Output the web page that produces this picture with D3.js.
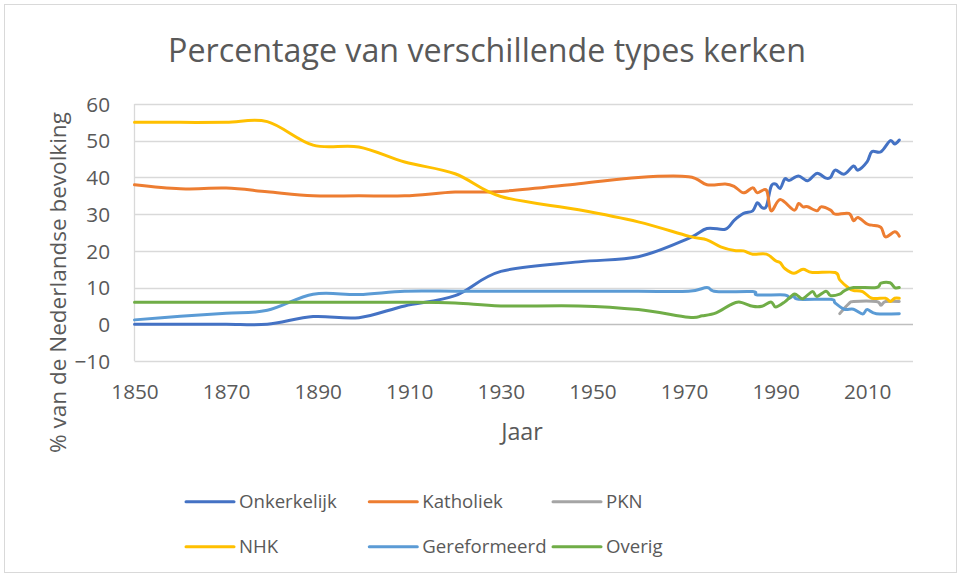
<!DOCTYPE html>
<html>
<head>
<meta charset="utf-8">
<script src="https://cdn.jsdelivr.net/npm/d3@7"></script>
<style>
html, body { margin: 0; padding: 0; background: #fff; }
svg { display: block; }
</style>
</head>
<body>
<div id="chart"></div>
<script>
var seriesNames = ["Onkerkelijk", "Katholiek", "PKN", "NHK", "Gereformeerd", "Overig"];
var seriesColors = ["#4472C4", "#ED7D31", "#A5A5A5", "#FFC000", "#5B9BD5", "#70AD47"];

var onkerkelijkYears = [1850,1860,1870,1879,1889,1899,1909,1920,1930,1947,1960,1971,1975,1979,1981,1983,1985,1986,1987,1988,1989,1990,1991,1992,1993,1995,1997,1999,2001,2002,2003,2005,2007,2008,2010,2011,2013,2015,2016,2017];
var onkerkelijk = [0,0,0,0,2.1,1.8,5,7.8,14.4,17,18.4,23.4,26.1,25.9,28.4,30.2,30.9,33.1,31.8,32.2,37.5,38.2,37,39.6,39.2,40.4,39.1,41.1,39.8,40,42,40.9,43.1,42,44.3,47,47,50,49.1,50.2];

var katholiekYears = [1850,1860,1870,1879,1889,1899,1909,1920,1930,1947,1960,1971,1975,1979,1981,1983,1985,1986,1988,1989,1991,1994,1995,1996,1997,1999,2000,2002,2003,2006,2007,2008,2010,2011,2013,2014,2016,2017];
var katholiek = [38,36.9,37.1,36.1,35,35,35,36,36.2,38.3,40,40.2,38,38.2,37.5,35.8,37.2,35.8,36.5,30.9,34,31.1,32.9,32,32,30.9,32,31.1,30,30.2,28.2,29.1,27.3,27,26.4,23.8,25.2,24];

var pknYears = [2004,2006,2007,2012,2013,2014,2017];
var pkn = [2.9,5.6,6.2,6.2,5.2,6.2,6.2];

var nhkYears = [1850,1860,1870,1879,1889,1899,1909,1920,1930,1947,1960,1971,1975,1978,1981,1983,1985,1988,1990,1991,1992,1994,1996,1998,2003,2004,2006,2007,2009,2011,2014,2015,2016,2017];
var nhk = [55,55,55,55.2,48.8,48.3,44.2,41,34.8,31.2,27.9,24,23,21.1,20.1,20,19.1,19.1,17.3,16.8,15.2,13.9,15,14.1,14.1,12.1,9.8,9.2,8.9,7.1,7.1,6.2,7.1,7.1];

var gereformeerdYears = [1850,1860,1870,1879,1889,1899,1909,1920,1930,1947,1960,1971,1975,1977,1985,1986,1992,1993,1994,1995,2002,2003,2005,2007,2009,2010,2012,2017];
var gereformeerd = [1.2,2.2,3.0,3.8,8.2,8.1,9,9,9,9,9,9,10,8.9,8.9,8,8,7.1,7.8,6.8,6.8,5.8,4.1,4.1,2.8,4,2.9,2.9];

var overigYears = [1850,1860,1870,1879,1889,1899,1909,1920,1930,1947,1960,1971,1974,1977,1980,1982,1985,1987,1989,1990,1992,1994,1995,1996,1998,1999,2001,2002,2004,2005,2007,2012,2013,2015,2016,2017];
var overig = [6,6,6,6,6,6,6,5.8,5,5,4,1.9,2.3,3.1,5.2,6.1,4.9,4.9,6.1,4.7,6.1,8.2,7.6,7,8.9,7.6,9,7.8,8.2,9.1,10,10,11.2,11.3,10,10];

var xTicks = [1850,1870,1890,1910,1930,1950,1970,1990,2010];
var yTicks = [-10,0,10,20,30,40,50,60];

var titleText = "Percentage van verschillende types kerken";
var xTitle = "Jaar";
var yTitle = "% van de Nederlandse bevolking";

var allYears = [onkerkelijkYears, katholiekYears, pknYears, nhkYears, gereformeerdYears, overigYears];
var allValues = [onkerkelijk, katholiek, pkn, nhk, gereformeerd, overig];

var W = 961, H = 577;
var FONT = "'Open Sans', 'DejaVu Sans', sans-serif";
var TEXT = "#595959";

// font size that makes a string a given pixel width
var ctx = document.createElement("canvas").getContext("2d");
function fitSize(str, width) {
  ctx.font = "100px " + FONT;
  return 100 * width / ctx.measureText(str).width;
}

var svg = d3.select("#chart").append("svg").attr("width", W).attr("height", H);
svg.append("rect").attr("width", W).attr("height", H).attr("fill", "#fff");
svg.append("rect").attr("x", 4.5).attr("y", 4.5).attr("width", W - 9).attr("height", H - 9)
  .attr("fill", "none").attr("stroke", "#D9D9D9");

var x = d3.scaleLinear().domain([1850, 2020]).range([134.5, 913]);
var y = d3.scaleLinear().domain([-10, 60]).range([361, 104]);

var tickSize = fitSize("1850", 47.5);

// gridlines
svg.append("g").selectAll("line").data(yTicks).join("line")
  .attr("x1", x(1850)).attr("x2", x(2020))
  .attr("y1", function (d) { return Math.round(y(d)) + 0.5; })
  .attr("y2", function (d) { return Math.round(y(d)) + 0.5; })
  .attr("stroke", function (d) { return d === 0 ? "#BFBFBF" : "#D9D9D9"; })
  .attr("stroke-width", 1.3);

svg.append("line").attr("x1", x(1850)).attr("x2", x(1850))
  .attr("y1", y(60)).attr("y2", y(-10)).attr("stroke", "#D9D9D9").attr("stroke-width", 1.3);

var yAxis = d3.axisLeft(y).tickValues(yTicks).tickSize(0).tickPadding(0);
var gy = svg.append("g").attr("transform", "translate(110,0)").call(yAxis);
gy.select(".domain").remove();
gy.selectAll("text").attr("font-family", FONT).attr("font-size", tickSize).attr("fill", TEXT)
  .attr("dy", "0.35em");

var xAxis = d3.axisBottom(x).tickValues(xTicks).tickFormat(d3.format("d")).tickSize(0).tickPadding(0);
var gx = svg.append("g").attr("transform", "translate(0,391.5)").call(xAxis);
gx.select(".domain").remove();
gx.selectAll("text").attr("font-family", FONT).attr("font-size", tickSize).attr("fill", TEXT)
  .attr("dy", "0.35em");

// lines
var line = d3.line()
  .x(function (d) { return x(d[0]); })
  .y(function (d) { return y(d[1]); })
  .curve(d3.curveCardinal.tension(0));

svg.append("g").selectAll("path").data(seriesNames).join("path")
  .attr("d", function (d, i) { return line(d3.zip(allYears[i], allValues[i])); })
  .attr("fill", "none")
  .attr("stroke", function (d, i) { return seriesColors[i]; })
  .attr("stroke-width", 3)
  .attr("stroke-linejoin", "round")
  .attr("stroke-linecap", "round");

// titles
svg.append("text").attr("x", 487).attr("y", 61.7).attr("text-anchor", "middle")
  .attr("font-family", FONT).attr("font-size", fitSize(titleText, 638)).attr("fill", TEXT)
  .text(titleText);

svg.append("text").attr("x", 522).attr("y", 440).attr("text-anchor", "middle")
  .attr("font-family", FONT).attr("font-size", fitSize(xTitle, 41.7)).attr("fill", TEXT)
  .text(xTitle);

svg.append("text").attr("transform", "translate(66,282.5) rotate(-90)").attr("text-anchor", "middle")
  .attr("font-family", FONT).attr("font-size", fitSize(yTitle, 341)).attr("fill", TEXT)
  .text(yTitle);

// legend
var legendSize = fitSize("Gereformeerd", 124.3);
var legendX = [186, 369.3, 553];
var legendY = [501.7, 546.7];
var leg = svg.append("g").selectAll("g").data(seriesNames).join("g")
  .attr("transform", function (d, i) {
    return "translate(" + legendX[i % 3] + "," + legendY[Math.floor(i / 3)] + ")";
  });
leg.append("line").attr("x1", 0).attr("x2", 48)
  .attr("stroke", function (d, i) { return seriesColors[i]; })
  .attr("stroke-width", 3).attr("stroke-linecap", "round");
leg.append("text").attr("x", 53).attr("dy", "0.35em")
  .attr("font-family", FONT).attr("font-size", legendSize).attr("fill", TEXT)
  .text(function (d) { return d; });
</script>
</body>
</html>
